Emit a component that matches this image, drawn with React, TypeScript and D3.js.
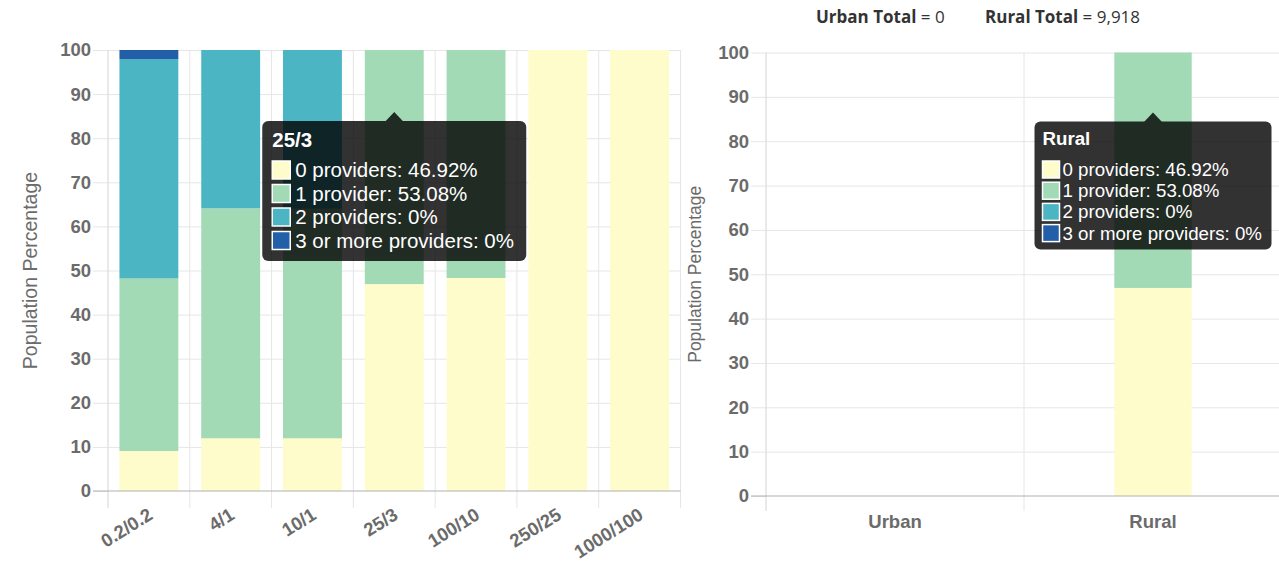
import React, { useRef, useEffect } from "react";
import * as d3 from "d3";

// speed tiers (download/upload, Mbps)
const speedTiers = ["0.2/0.2", "4/1", "10/1", "25/3", "100/10", "250/25", "1000/100"];
const tierZeroProviders = [9.07, 11.95, 11.95, 46.92, 48.3, 100, 100];
const tierOneProvider = [39.13, 52.15, 52.05, 53.08, 51.7, 0, 0];
const tierTwoProviders = [49.75, 35.9, 36.0, 0, 0, 0, 0];
const tierThreePlusProviders = [2.05, 0, 0, 0, 0, 0, 0];

// urban / rural split
const areaTypes = ["Urban", "Rural"];
const areaZeroProviders = [0, 46.92];
const areaOneProvider = [0, 53.08];
const areaTwoProviders = [0, 0];
const areaThreePlusProviders = [0, 0];

const seriesNames = ["0 providers", "1 provider", "2 providers", "3 or more providers"];
const seriesColors = ["#fefccb", "#a1dab4", "#4bb5c4", "#235fa9"];
const yTicks = [0, 10, 20, 30, 40, 50, 60, 70, 80, 90, 100];

const urbanTotal = 0;
const ruralTotal = 9918;
const hoveredTier = "25/3";
const hoveredArea = "Rural";

const FONT = "'Liberation Sans', Arial, Helvetica, sans-serif";

type Sel = d3.Selection<SVGGElement, unknown, null, undefined>;

interface PanelConfig {
  categories: string[];
  series: number[][];
  left: number;
  right: number;
  top: number;
  bottom: number;
  barRatio: number;
  tickFont: number;
  titleX: number;
  titleFont: number;
  gridExtend: number;
  rotateLabels: boolean;
}

const drawPanel = (g: Sel, cfg: PanelConfig) => {
  const { categories, series, left, right, top, bottom } = cfg;
  const x = d3.scaleBand<string>().domain(categories).range([left, right]);
  const y = d3.scaleLinear().domain([0, 100]).range([bottom, top]);
  const bw = x.step() * cfg.barRatio;

  const rows = categories.map((c, i) => {
    const r: Record<string, any> = { cat: c };
    seriesNames.forEach((n, k) => (r[n] = series[k][i]));
    return r;
  });
  const stacked = d3.stack<Record<string, any>>().keys(seriesNames)(rows);

  // horizontal grid lines
  g.append("g")
    .attr("transform", `translate(${left},0)`)
    .call(
      d3
        .axisLeft(y)
        .tickValues(yTicks.filter((t) => t !== 0))
        .tickSize(-(right - left))
        .tickFormat(() => "")
    )
    .call((a) => a.select(".domain").remove())
    .call((a) => a.selectAll(".tick line").attr("stroke", "#e6e6e6"));

  // vertical grid lines at band edges
  const edges = categories.map((c) => x(c) as number).concat(right);
  g.append("g")
    .selectAll("line")
    .data(edges)
    .join("line")
    .attr("x1", (d) => d)
    .attr("x2", (d) => d)
    .attr("y1", top)
    .attr("y2", bottom + cfg.gridExtend)
    .attr("stroke", (_, i) => (i === 0 ? "#d4d4d4" : "#e6e6e6"));

  // y ticks + labels
  g.append("g")
    .attr("transform", `translate(${left},0)`)
    .call(d3.axisLeft(y).tickValues(yTicks).tickSize(15).tickPadding(2))
    .call((a) => a.select(".domain").remove())
    .call((a) => a.selectAll(".tick line").attr("stroke", "#e6e6e6"))
    .selectAll("text")
    .style("font-size", `${cfg.tickFont}px`)
    .style("font-family", FONT)
    .style("font-weight", "bold")
    .style("fill", "#6b6b6b");

  // stacked bars
  stacked.forEach((layer, k) => {
    g.append("g")
      .selectAll("rect")
      .data(layer.filter((d) => d[1] - d[0] > 0))
      .join("rect")
      .attr("x", (d) => (x(d.data.cat) as number) + (x.step() - bw) / 2)
      .attr("width", bw)
      .attr("y", (d) => y(d[1]))
      .attr("height", (d) => y(d[0]) - y(d[1]))
      .attr("fill", seriesColors[k]);
  });

  // zero line
  g.append("line")
    .attr("x1", left - 15)
    .attr("x2", right)
    .attr("y1", y(0))
    .attr("y2", y(0))
    .attr("stroke", "#b0b0b0");

  // x labels
  const labels = g
    .append("g")
    .selectAll("text")
    .data(categories)
    .join("text")
    .text((d) => d)
    .style("font-size", `${cfg.tickFont}px`)
    .style("font-family", FONT)
    .style("font-weight", "bold")
    .style("fill", "#6b6b6b");
  if (cfg.rotateLabels) {
    labels
      .attr("text-anchor", "end")
      .attr(
        "transform",
        (d) => `translate(${(x(d) as number) + x.step() / 2 + 5},${bottom + 27}) rotate(-32)`
      );
  } else {
    labels
      .attr("text-anchor", "middle")
      .attr("x", (d) => (x(d) as number) + x.step() / 2)
      .attr("y", bottom + 32);
  }

  // axis title
  g.append("text")
    .attr("transform", `translate(${cfg.titleX},${(top + bottom) / 2}) rotate(-90)`)
    .attr("text-anchor", "middle")
    .attr("dominant-baseline", "central")
    .style("font-size", `${cfg.titleFont}px`)
    .style("font-family", FONT)
    .style("fill", "#6b6b6b")
    .text("Population Percentage");

  return { x, y, bw };
};

interface TooltipConfig {
  cx: number;
  top: number;
  width: number;
  height: number;
  title: string;
  values: number[];
  fontSize: number;
  titleBase: number;
  rowBase: number;
  pitch: number;
  swatch: number;
  padX: number;
  textX: number;
}

const drawTooltip = (g: Sel, t: TooltipConfig) => {
  const left = t.cx - t.width / 2;
  const tip = g.append("g");
  const bg = tip.append("g").attr("opacity", 0.8);
  bg.append("rect")
    .attr("x", left)
    .attr("y", t.top)
    .attr("width", t.width)
    .attr("height", t.height)
    .attr("rx", 6)
    .attr("fill", "#000");
  bg.append("path")
    .attr("d", `M${t.cx - 9},${t.top + 0.5} L${t.cx},${t.top - 9} L${t.cx + 9},${t.top + 0.5} Z`)
    .attr("fill", "#000");

  tip
    .append("text")
    .attr("x", left + t.padX)
    .attr("y", t.top + t.titleBase)
    .style("font-size", `${t.fontSize}px`)
    .style("font-family", FONT)
    .style("font-weight", "bold")
    .style("fill", "#fff")
    .text(t.title);

  seriesNames.forEach((name, k) => {
    const base = t.top + t.rowBase + k * t.pitch;
    tip
      .append("rect")
      .attr("x", left + t.padX)
      .attr("y", base - t.swatch + 2)
      .attr("width", t.swatch)
      .attr("height", t.swatch)
      .attr("fill", seriesColors[k])
      .attr("stroke", "#fff")
      .attr("stroke-width", 1.5);
    tip
      .append("text")
      .attr("x", left + t.textX)
      .attr("y", base)
      .style("font-size", `${t.fontSize}px`)
      .style("font-family", FONT)
      .style("fill", "#fff")
      .text(`${name}: ${+t.values[k].toFixed(2)}%`);
  });
};

const ProviderCharts = () => {
  const chartRef = useRef<SVGSVGElement | null>(null);

  useEffect(() => {
    if (!chartRef.current) return;
    const svg = d3.select(chartRef.current);
    svg.selectAll("*").remove();
    const root = svg.append("g") as unknown as Sel;

    const tierSeries = [tierZeroProviders, tierOneProvider, tierTwoProviders, tierThreePlusProviders];
    const areaSeries = [areaZeroProviders, areaOneProvider, areaTwoProviders, areaThreePlusProviders];

    const leftPanel = drawPanel(root.append("g"), {
      categories: speedTiers,
      series: tierSeries,
      left: 108,
      right: 680.5,
      top: 50,
      bottom: 491,
      barRatio: 0.72,
      tickFont: 18.5,
      titleX: 30,
      titleFont: 19.5,
      gridExtend: 17,
      rotateLabels: true,
    });

    const rightPanel = drawPanel(root.append("g"), {
      categories: areaTypes,
      series: areaSeries,
      left: 766,
      right: 1282,
      top: 52.5,
      bottom: 496,
      barRatio: 0.3,
      tickFont: 18.5,
      titleX: 695,
      titleFont: 17.5,
      gridExtend: 15,
      rotateLabels: false,
    });

    // totals header
    const header = root
      .append("g")
      .style("font-family", "'Open Sans', sans-serif")
      .style("font-size", "17px")
      .style("fill", "#333");
    const urban = header.append("text").attr("x", 816).attr("y", 23);
    urban.append("tspan").style("font-weight", "bold").text("Urban Total");
    urban.append("tspan").text(` = ${d3.format(",")(urbanTotal)}`);
    const rural = header.append("text").attr("x", 985).attr("y", 23);
    rural.append("tspan").style("font-weight", "bold").text("Rural Total");
    rural.append("tspan").text(` = ${d3.format(",")(ruralTotal)}`);

    // tooltips
    const ti = speedTiers.indexOf(hoveredTier);
    drawTooltip(root, {
      cx: (leftPanel.x(hoveredTier) as number) + leftPanel.x.step() / 2,
      top: 121,
      width: 264,
      height: 140,
      title: hoveredTier,
      values: tierSeries.map((s) => s[ti]),
      fontSize: 20.5,
      titleBase: 26,
      rowBase: 56,
      pitch: 23.5,
      swatch: 18,
      padX: 10,
      textX: 33,
    });

    const ai = areaTypes.indexOf(hoveredArea);
    drawTooltip(root, {
      cx: (rightPanel.x(hoveredArea) as number) + rightPanel.x.step() / 2,
      top: 121.5,
      width: 237,
      height: 128,
      title: hoveredArea,
      values: areaSeries.map((s) => s[ai]),
      fontSize: 18.7,
      titleBase: 23.5,
      rowBase: 54.5,
      pitch: 21.2,
      swatch: 17,
      padX: 8,
      textX: 28,
    });
  }, []);

  return (
    <svg
      ref={chartRef}
      width={1279}
      height={562}
      style={{ position: "absolute", left: 0, top: 0, background: "#fff" }}
    />
  );
};

export default function App() {
  return <ProviderCharts />;
}
